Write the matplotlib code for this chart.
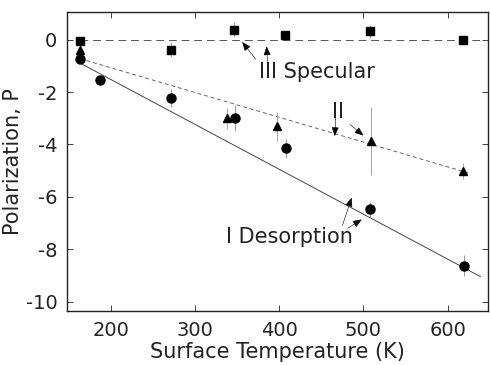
import matplotlib
matplotlib.use("Agg")
import matplotlib.pyplot as plt
import numpy as np

plt.rcParams['font.family'] = ['DejaVu Sans']
plt.rcParams['axes.unicode_minus'] = False

# III Specular (squares)
T_spec = [163, 271, 346, 407, 508, 618]
P_spec = [-0.06, -0.38, 0.38, 0.16, 0.32, -0.03]
E_spec = [0.0, 0.3, 0.3, 0.15, 0.25, 0.0]

# I Desorption (circles)
T_des = [163, 187, 271, 348, 408, 508, 619]
P_des = [-0.74, -1.56, -2.22, -3.0, -4.15, -6.48, -8.63]
E_des = [0.0, 0.0, 0.35, 0.5, 0.35, 0.3, 0.4]

# II (triangles)
T_two = [163, 338, 397, 509, 618]
P_two = [-0.38, -3.0, -3.3, -3.87, -5.0]
E_two = [0.0, 0.4, 0.55, 1.3, 0.3]

# fitted lines (end points)
fit_spec_T = [163, 645]
fit_spec_P = [0.0, 0.0]
fit_des_T = [163, 639]
fit_des_P = [-0.89, -9.04]
fit_two_T = [171, 624]
fit_two_P = [-0.8, -5.08]

fig = plt.figure(figsize=(4.9, 3.65), dpi=100)
ax = fig.add_axes([0.137, 0.148, 0.859, 0.819])

ax.plot(fit_spec_T, fit_spec_P, color='#555555', lw=0.7, ls=(0, (8, 5)))
ax.plot(fit_des_T, fit_des_P, color='#444444', lw=0.7)
ax.plot(fit_two_T, fit_two_P, color='#666666', lw=0.7, ls=(0, (4, 3)))

ax.errorbar(T_spec, P_spec, yerr=E_spec, fmt='s', color='black', ms=6,
            ecolor='#888888', elinewidth=0.6, capsize=0)
ax.errorbar(T_des, P_des, yerr=E_des, fmt='o', color='black', ms=6.5,
            ecolor='#888888', elinewidth=0.6, capsize=0)
ax.errorbar(T_two, P_two, yerr=E_two, fmt='^', color='black', ms=6,
            ecolor='#999999', elinewidth=0.6, capsize=0)

ax.text(376, -1.22, 'III Specular', fontsize=15, va='center', ha='left', color='#222222')
ax.text(469.5, -2.78, 'II', fontsize=15, va='center', ha='center', color='#222222')
ax.text(412.5, -7.54, 'I Desorption', fontsize=15, va='center', ha='center', color='#222222')

arrows = [
    ((356, -0.09), (372, -0.75)),
    ((385, -0.26), (386, -0.84)),
    ((466, -3.68), (467, -2.97)),
    ((500, -3.66), (484, -3.24)),
    ((486, -6.03), (475, -7.09)),
    ((498, -6.86), (481, -7.2)),
]
for head, tail in arrows:
    ax.annotate('', xy=head, xytext=tail,
                arrowprops=dict(arrowstyle='-|>,head_length=0.55,head_width=0.22',
                                color='black', lw=0.4, shrinkA=0, shrinkB=0))

ax.set_xlim(148, 648)
ax.set_ylim(-10.35, 1.05)
ax.set_xticks([200, 300, 400, 500, 600])
ax.set_yticks([0, -2, -4, -6, -8, -10])
ax.tick_params(direction='in', top=True, right=True, labelsize=14,
               length=4, width=0.6, colors='#222222', pad=7)
for s in ax.spines.values():
    s.set_linewidth(1.0)
    s.set_color('#222222')

ax.set_xlabel('Surface Temperature (K)', fontsize=15, color='#222222', labelpad=2)
ax.set_ylabel('Polarization, P', fontsize=15, color='#222222', labelpad=2)

fig.savefig('out.png', dpi=100)
